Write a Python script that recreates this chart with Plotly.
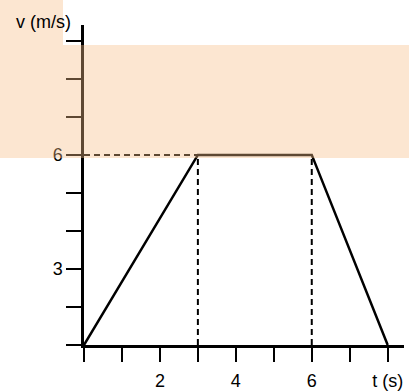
import plotly.graph_objects as go

# Velocity-time data
t = [0, 3, 6, 8]
v = [0, 6, 6, 0]

# Axis ticks (the reference spaces y ticks 1.2 apart)
x_ticks = [0, 1, 2, 3, 4, 5, 6, 7, 8]
x_labels = ["", "", "2", "", "4", "", "6", "", "t (s)"]
y_ticks = [0, 1.2, 2.4, 3.6, 4.8, 6.0, 7.2, 8.4, 9.6]
y_labels = ["", "", "3", "", "", "6", "", "", ""]

FONT = "Liberation Sans, Arial, sans-serif"
SHADE = "rgba(248, 190, 135, 0.38)"

fig = go.Figure()

# Dashed guide lines
dash_line = dict(color="black", width=2, dash="6px,4px")
fig.add_trace(go.Scatter(x=[0, t[1]], y=[v[1], v[1]], mode="lines",
                         line=dash_line, hoverinfo="skip"))
for tx, vy in [(t[1], v[1]), (t[2], v[2])]:
    fig.add_trace(go.Scatter(x=[tx, tx], y=[0, vy], mode="lines",
                             line=dash_line, hoverinfo="skip"))

# Main graph
fig.add_trace(go.Scatter(x=t, y=v, mode="lines",
                         line=dict(color="black", width=2.5),
                         hoverinfo="skip"))

# Plot area: x 84..404 px, y 25..345 px
px_w, px_h = 320, 320


def px_x(px):
    return (px - 84) / px_w


def px_y(py):
    return (345 - py) / px_h


fig.add_shape(type="rect", xref="paper", yref="paper", layer="above",
              x0=px_x(0), x1=px_x(63), y0=px_y(158), y1=px_y(0),
              fillcolor=SHADE, line_width=0)
fig.add_shape(type="rect", xref="paper", yref="paper", layer="above",
              x0=px_x(63), x1=px_x(409), y0=px_y(158), y1=px_y(45),
              fillcolor=SHADE, line_width=0)

fig.add_annotation(text="v (m/s)", xref="paper", yref="paper",
                   x=px_x(43), y=px_y(22), xanchor="center", yanchor="middle",
                   showarrow=False,
                   font=dict(family=FONT, size=18, color="black"))

fig.update_layout(
    width=409, height=392,
    margin=dict(l=84, r=5, t=25, b=47),
    paper_bgcolor="white", plot_bgcolor="white",
    showlegend=False,
    font=dict(family=FONT, size=18, color="black"),
    xaxis=dict(range=[0, 8.43], tickvals=x_ticks, ticktext=x_labels,
               ticks="outside", ticklen=14, tickwidth=2, tickcolor="black",
               ticklabelstandoff=4,
               showline=True, linecolor="black", linewidth=2.5,
               showgrid=False, zeroline=False, fixedrange=True,
               automargin=False),
    yaxis=dict(range=[0, 10.1], tickvals=y_ticks, ticktext=y_labels,
               ticks="outside", ticklen=15, tickwidth=2, tickcolor="black",
               showline=True, linecolor="black", linewidth=2.5,
               showgrid=False, zeroline=False, fixedrange=True,
               automargin=False),
)

# Drop the default page margin so the figure sits at the window's corner
fig.write_html("out.html", config={"displayModeBar": False},
               post_script="document.body.style.margin = '0';")
